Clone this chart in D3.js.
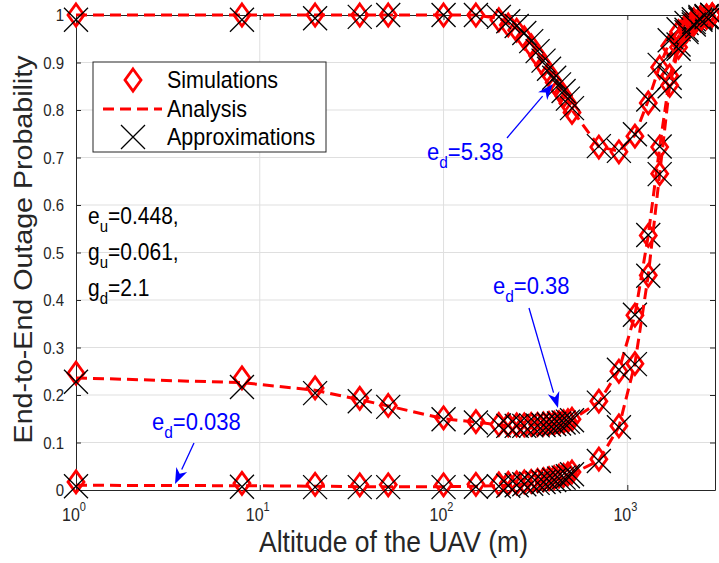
<!DOCTYPE html>
<html>
<head>
<meta charset="utf-8">
<script src="https://cdn.jsdelivr.net/npm/d3@7"></script>
<style>
  body { margin: 0; background: #fff; }
  svg { display: block; font-family: "Liberation Sans", Arial, Helvetica, sans-serif; }
</style>
</head>
<body>
<div id="vis"></div>
<script>
// declare constants
const FRAME_WIDTH = 719
const FRAME_HEIGHT = 563
const MARGINS = {left: 76, right: 4, top: 15, bottom: 73}

const VIS_WIDTH = FRAME_WIDTH - MARGINS.left - MARGINS.right
const VIS_HEIGHT = FRAME_HEIGHT - MARGINS.top - MARGINS.bottom

// altitude of the UAV (m)
const altitude = [1, 8, 20, 35, 50, 100, 150,
  200, 225, 250, 275, 300, 325, 350, 375, 400, 425, 450, 475, 500,
  700, 900, 1100, 1300, 1500, 1700, 1900, 2100, 2300, 2500, 2700, 2900]

// e_d = 5.38
const top_sim = [1, 1, 1, 1, 1, 1, 1,
  0.99, 0.979, 0.968, 0.952, 0.935, 0.914, 0.894, 0.877, 0.858, 0.844, 0.83, 0.814, 0.795,
  0.722, 0.712, 0.745, 0.815, 0.89, 0.935, 0.965, 0.98, 0.99, 0.995, 0.998, 1]
const top_ana = [1, 1, 1, 1, 1, 1, 1,
  0.993, 0.983, 0.973, 0.958, 0.941, 0.92, 0.9, 0.883, 0.864, 0.85, 0.836, 0.82, 0.8,
  0.723, 0.713, 0.747, 0.82, 0.893, 0.943, 0.968, 0.982, 0.99, 0.995, 0.998, 1]
const top_apx = [0.99, 0.99, 0.993, 0.996, 1, 1, 1,
  0.996, 0.987, 0.977, 0.962, 0.945, 0.924, 0.904, 0.887, 0.868, 0.854, 0.84, 0.824, 0.804,
  0.724, 0.714, 0.749, 0.822, 0.895, 0.947, 0.97, 0.983, 0.991, 0.996, 0.998, 1]

// e_d = 0.38
const mid_sim = [0.246, 0.236, 0.215, 0.193, 0.178, 0.152, 0.144,
  0.138, 0.137, 0.137, 0.137, 0.138, 0.138, 0.139, 0.14, 0.141, 0.142, 0.144, 0.146, 0.149,
  0.187, 0.25, 0.368, 0.536, 0.722, 0.872, 0.945, 0.972, 0.986, 0.993, 0.997, 1]
const mid_ana = [0.236, 0.226, 0.21, 0.19, 0.177, 0.15, 0.143,
  0.137, 0.136, 0.136, 0.136, 0.137, 0.137, 0.138, 0.139, 0.14, 0.141, 0.143, 0.145, 0.148,
  0.185, 0.252, 0.368, 0.536, 0.722, 0.869, 0.94, 0.97, 0.985, 0.993, 0.997, 1]
const mid_apx = [0.228, 0.217, 0.204, 0.187, 0.175, 0.149, 0.142,
  0.136, 0.135, 0.135, 0.135, 0.136, 0.136, 0.137, 0.138, 0.139, 0.14, 0.142, 0.144, 0.147,
  0.184, 0.253, 0.369, 0.537, 0.723, 0.868, 0.938, 0.969, 0.985, 0.993, 0.997, 1]

// e_d = 0.038
const bot_sim = [0.017, 0.014, 0.012, 0.011, 0.011, 0.011, 0.012,
  0.013, 0.014, 0.015, 0.017, 0.018, 0.02, 0.022, 0.024, 0.026, 0.029, 0.031, 0.034, 0.038,
  0.065, 0.135, 0.266, 0.452, 0.666, 0.852, 0.932, 0.966, 0.981, 0.99, 0.995, 1]
const bot_ana = [0.01, 0.009, 0.008, 0.007, 0.007, 0.007, 0.008,
  0.009, 0.01, 0.011, 0.013, 0.014, 0.016, 0.018, 0.02, 0.022, 0.025, 0.027, 0.03, 0.034,
  0.062, 0.133, 0.266, 0.452, 0.666, 0.852, 0.93, 0.965, 0.98, 0.99, 0.995, 1]
const bot_apx = [0.008, 0.007, 0.006, 0.006, 0.006, 0.006, 0.007,
  0.008, 0.009, 0.01, 0.012, 0.013, 0.015, 0.017, 0.019, 0.021, 0.024, 0.026, 0.029, 0.033,
  0.061, 0.132, 0.265, 0.451, 0.665, 0.85, 0.929, 0.964, 0.98, 0.99, 0.995, 1]

// tick labels
const x_ticks = [1, 10, 100, 1000]
const x_exps = ["0", "1", "2", "3"]
const y_ticks = [0, 0.1, 0.2, 0.3, 0.4, 0.5, 0.6, 0.7, 0.8, 0.9, 1]
const y_labels = ["0", "0.1", "0.2", "0.3", "0.4", "0.5", "0.6", "0.7", "0.8", "0.9", "1"]

const legend_names = ["Simulations", "Analysis", "Approximations"]

const AXIS_COLOR = "#262626"
const GRID_COLOR = "#dfdfdf"
const TEXT_STRETCH = 1.1

const FRAME = d3.select("#vis")
                .append("svg")
                .attr("width", FRAME_WIDTH)
                .attr("height", FRAME_HEIGHT)

const X_SCALE = d3.scaleLog()
                  .domain([1, 3000])
                  .range([MARGINS.left, MARGINS.left + VIS_WIDTH])

const Y_SCALE = d3.scaleLinear()
                  .domain([0, 1])
                  .range([MARGINS.top + VIS_HEIGHT, MARGINS.top])

// grid lines
FRAME.append("g")
     .selectAll("line")
     .data(x_ticks.slice(1))
     .enter()
     .append("line")
       .attr("x1", d => X_SCALE(d)).attr("x2", d => X_SCALE(d))
       .attr("y1", MARGINS.top).attr("y2", MARGINS.top + VIS_HEIGHT)
       .attr("stroke", GRID_COLOR).attr("stroke-width", 1)

FRAME.append("g")
     .selectAll("line")
     .data(y_ticks.slice(1, -1))
     .enter()
     .append("line")
       .attr("x1", MARGINS.left).attr("x2", MARGINS.left + VIS_WIDTH)
       .attr("y1", d => Y_SCALE(d)).attr("y2", d => Y_SCALE(d))
       .attr("stroke", GRID_COLOR).attr("stroke-width", 1)

// axes (inward ticks, box on)
FRAME.append("g")
     .attr("transform", "translate(0," + (MARGINS.top + VIS_HEIGHT) + ")")
     .call(d3.axisBottom(X_SCALE).tickValues(x_ticks).tickSizeInner(-5).tickSizeOuter(0).tickFormat(""))
FRAME.append("g")
     .attr("transform", "translate(0," + MARGINS.top + ")")
     .call(d3.axisTop(X_SCALE).tickValues(x_ticks).tickSizeInner(-5).tickSizeOuter(0).tickFormat(""))
FRAME.append("g")
     .attr("transform", "translate(" + MARGINS.left + ",0)")
     .call(d3.axisLeft(Y_SCALE).tickValues(y_ticks).tickSizeInner(-5).tickSizeOuter(0).tickFormat(""))
FRAME.append("g")
     .attr("transform", "translate(" + (MARGINS.left + VIS_WIDTH) + ",0)")
     .call(d3.axisRight(Y_SCALE).tickValues(y_ticks).tickSizeInner(-5).tickSizeOuter(0).tickFormat(""))

FRAME.selectAll(".domain, .tick line").attr("stroke", AXIS_COLOR).attr("stroke-width", 1)

// tick labels
FRAME.append("g")
     .selectAll("text")
     .data(y_ticks)
     .enter()
     .append("text")
       .attr("transform", d => "translate(64," + (Y_SCALE(d) + 6) + ") scale(1," + TEXT_STRETCH + ")")
       .attr("text-anchor", "end")
       .attr("font-size", "15px")
       .attr("fill", AXIS_COLOR)
       .text((d, i) => y_labels[i])

const xLab = FRAME.append("g")
     .selectAll("text")
     .data(x_ticks)
     .enter()
     .append("text")
       .attr("transform", d => "translate(" + (X_SCALE(d) - 2) + ",521) scale(1," + TEXT_STRETCH + ")")
       .attr("text-anchor", "middle")
       .attr("font-size", "16px")
       .attr("fill", AXIS_COLOR)
xLab.append("tspan").text("10")
xLab.append("tspan").attr("dy", -9).attr("font-size", "11px").text((d, i) => x_exps[i])

// axis titles
FRAME.append("text")
     .attr("transform", "translate(" + (MARGINS.left + VIS_WIDTH / 2 - 2) + ",552) scale(1," + TEXT_STRETCH + ")")
     .attr("text-anchor", "middle")
     .attr("font-size", "26.5px")
     .attr("fill", AXIS_COLOR)
     .text("Altitude of the UAV (m)")

FRAME.append("text")
     .attr("transform", "translate(32," + (MARGINS.top + VIS_HEIGHT / 2 - 3) + ") rotate(-90) scale(" + TEXT_STRETCH + ",1)")
     .attr("text-anchor", "middle")
     .attr("font-size", "26px")
     .attr("fill", AXIS_COLOR)
     .text("End-to-End Outage Probability")

// markers
const DIAMOND = "M0,-11L8,0L0,11L-8,0Z"
const CROSS = "M-12,-12L12,12M-12,12L12,-12"

const line = d3.line()
               .x(d => X_SCALE(d.x))
               .y(d => Y_SCALE(d.y))

const series = [
  {sim: top_sim, ana: top_ana, apx: top_apx},
  {sim: mid_sim, ana: mid_ana, apx: mid_apx},
  {sim: bot_sim, ana: bot_ana, apx: bot_apx}
]

series.forEach(s => {
  const g = FRAME.append("g")
  g.selectAll(".sim")
   .data(altitude.map((a, i) => ({x: a, y: s.sim[i]})))
   .enter()
   .append("path")
     .attr("d", DIAMOND)
     .attr("transform", d => "translate(" + X_SCALE(d.x) + "," + Y_SCALE(d.y) + ")")
     .attr("fill", "none")
     .attr("stroke", "#ff0000")
     .attr("stroke-width", 2.8)
  g.append("path")
   .datum(altitude.map((a, i) => ({x: a, y: s.ana[i]})))
   .attr("d", line)
   .attr("fill", "none")
   .attr("stroke", "#ff0000")
   .attr("stroke-width", 3)
   .attr("stroke-dasharray", "11,6")
  g.selectAll(".apx")
   .data(altitude.map((a, i) => ({x: a, y: s.apx[i]})))
   .enter()
   .append("path")
     .attr("d", CROSS)
     .attr("transform", d => "translate(" + X_SCALE(d.x) + "," + Y_SCALE(d.y) + ")")
     .attr("fill", "none")
     .attr("stroke", "#000")
     .attr("stroke-width", 1.3)
})

// legend
const LEG = FRAME.append("g")
LEG.append("rect")
   .attr("x", 93).attr("y", 62).attr("width", 233).attr("height", 90)
   .attr("fill", "#fff").attr("stroke", AXIS_COLOR).attr("stroke-width", 1)
LEG.append("path").attr("d", DIAMOND).attr("transform", "translate(133,80)")
   .attr("fill", "none").attr("stroke", "#ff0000").attr("stroke-width", 2.8)
LEG.append("line").attr("x1", 103).attr("x2", 162).attr("y1", 109).attr("y2", 109)
   .attr("stroke", "#ff0000").attr("stroke-width", 3).attr("stroke-dasharray", "11,6")
LEG.append("path").attr("d", CROSS).attr("transform", "translate(133,137)")
   .attr("fill", "none").attr("stroke", "#000").attr("stroke-width", 1.3)
LEG.selectAll("text")
   .data(legend_names)
   .enter()
   .append("text")
     .attr("transform", (d, i) => "translate(167," + (88 + i * 28.5) + ") scale(1," + TEXT_STRETCH + ")")
     .attr("font-size", "21.5px")
     .attr("fill", "#000")
     .text(d => d)

// parameter note
const notes = [["e", "u", "=0.448,"], ["g", "u", "=0.061,"], ["g", "d", "=2.1"]]
notes.forEach((n, i) => {
  const t = FRAME.append("text")
     .attr("transform", "translate(88," + (224 + i * 36) + ") scale(1," + TEXT_STRETCH + ")")
     .attr("font-size", "21px")
     .attr("fill", "#000")
  t.append("tspan").text(n[0])
  t.append("tspan").attr("dy", 7).attr("font-size", "15px").text(n[1])
  t.append("tspan").attr("dy", -7).text(n[2])
})

// e_d annotations with arrows
const annotations = [
  {x: 427, y: 160, val: "=5.38", from: [507, 138], to: [553, 84]},
  {x: 493, y: 294, val: "=0.38", from: [529, 308], to: [558, 408]},
  {x: 152, y: 430, val: "=0.038", from: [194, 443], to: [175, 484]}
]
annotations.forEach(a => {
  const t = FRAME.append("text")
     .attr("transform", "translate(" + a.x + "," + a.y + ") scale(1," + TEXT_STRETCH + ")")
     .attr("font-size", "22px")
     .attr("fill", "#0000ff")
  t.append("tspan").text("e")
  t.append("tspan").attr("dy", 7).attr("font-size", "15.5px").text("d")
  t.append("tspan").attr("dy", -7).text(a.val)

  const ang = Math.atan2(a.to[1] - a.from[1], a.to[0] - a.from[0])
  const L = 16, W = 6
  const bx = a.to[0] - L * Math.cos(ang), by = a.to[1] - L * Math.sin(ang)
  FRAME.append("line")
     .attr("x1", a.from[0]).attr("y1", a.from[1]).attr("x2", bx).attr("y2", by)
     .attr("stroke", "#0000ff").attr("stroke-width", 1.3)
  FRAME.append("path")
     .attr("d", "M" + a.to[0] + "," + a.to[1] +
                "L" + (bx + W * Math.sin(ang)) + "," + (by - W * Math.cos(ang)) +
                "L" + (a.to[0] - 0.7 * L * Math.cos(ang)) + "," + (a.to[1] - 0.7 * L * Math.sin(ang)) +
                "L" + (bx - W * Math.sin(ang)) + "," + (by + W * Math.cos(ang)) + "Z")
     .attr("fill", "#0000ff")
})
</script>
</body>
</html>
